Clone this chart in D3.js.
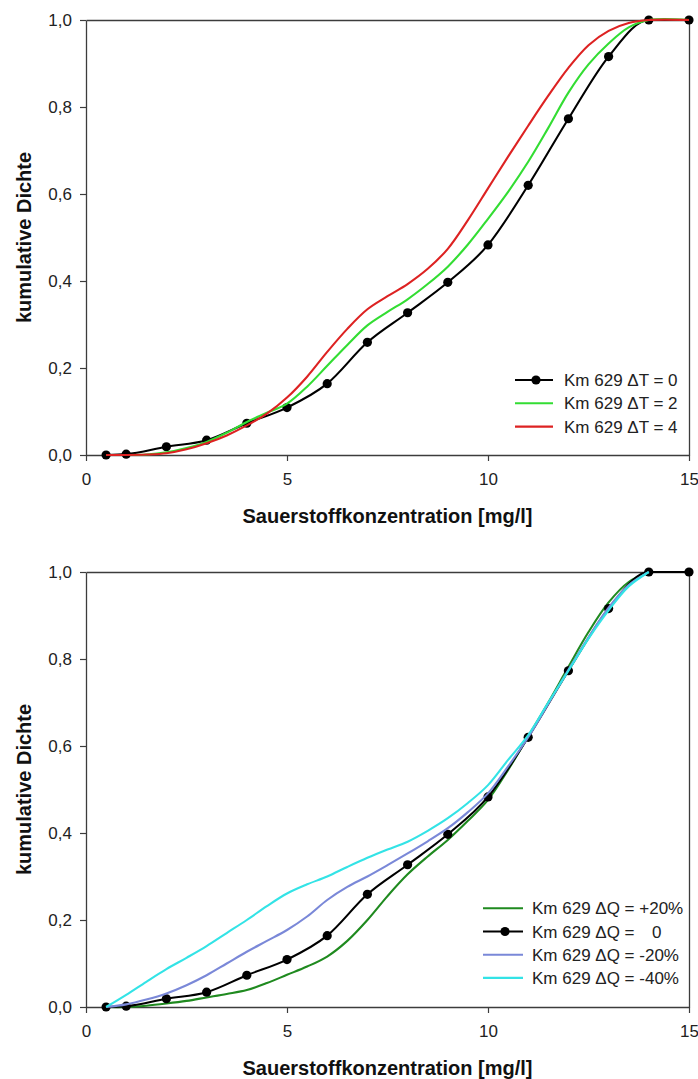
<!DOCTYPE html>
<html>
<head>
<meta charset="utf-8">
<script src="https://cdn.jsdelivr.net/npm/d3@7"></script>
<style>
  html, body { margin: 0; padding: 0; background: #fff; }
  svg { display: block; font-family: "Liberation Sans", Arial, sans-serif; }
</style>
</head>
<body>
<svg id="chart" width="698" height="1079"></svg>
<script>
// Axis ticks
const xTicks = [0, 5, 10, 15];
const yTicks = [0, 0.2, 0.4, 0.6, 0.8, 1.0];

// Measured cumulative density at Km 629 (reference state)
const stationX = [0.5, 1, 2, 3, 4, 5, 6, 7, 8, 9, 10, 11, 12, 13, 14, 15];
const baseDensity = [0, 0.002, 0.019, 0.034, 0.073, 0.109, 0.164, 0.259, 0.327, 0.397, 0.483, 0.620, 0.773, 0.916, 1, 1];

// Oxygen grid used for the scenario curves
const scenarioX = [0.5, 1, 1.5, 2, 2.5, 3, 3.5, 4, 4.5, 5, 5.5, 6, 6.5, 7, 7.5, 8, 8.5, 9, 9.5, 10,
                   10.5, 11, 11.5, 12, 12.5, 13, 13.5, 14, 15];

// Temperature scenarios (upper panel)
const densityDT2 = [0, 0, 0.001, 0.006, 0.016, 0.030, 0.051, 0.076, 0.097, 0.118, 0.157, 0.205, 0.253, 0.298, 0.329,
                    0.358, 0.393, 0.433, 0.484, 0.543, 0.605, 0.674, 0.752, 0.833, 0.898, 0.946, 0.983, 1, 1];
const densityDT4 = [0, 0, 0.001, 0.004, 0.013, 0.027, 0.045, 0.068, 0.095, 0.132, 0.180, 0.237, 0.290, 0.335, 0.365,
                    0.393, 0.428, 0.474, 0.540, 0.613, 0.686, 0.757, 0.826, 0.890, 0.942, 0.975, 0.993, 1, 1];

// Discharge scenarios (lower panel)
const densityDQp20 = [0, 0, 0.003, 0.008, 0.014, 0.022, 0.030, 0.039, 0.055, 0.074, 0.093, 0.116, 0.152, 0.200, 0.255,
                      0.305, 0.346, 0.384, 0.428, 0.476, 0.545, 0.622, 0.700, 0.782, 0.862, 0.930, 0.977, 1];
const densityDQm20 = [0, 0.006, 0.017, 0.031, 0.050, 0.073, 0.100, 0.127, 0.152, 0.177, 0.208, 0.246, 0.276, 0.300, 0.326,
                      0.353, 0.381, 0.411, 0.448, 0.491, 0.553, 0.620, 0.697, 0.775, 0.850, 0.918, 0.970, 1];
const densityDQm40 = [0, 0.028, 0.058, 0.087, 0.113, 0.140, 0.170, 0.200, 0.232, 0.261, 0.282, 0.300, 0.322, 0.343, 0.362,
                      0.380, 0.405, 0.434, 0.469, 0.510, 0.568, 0.625, 0.700, 0.773, 0.847, 0.912, 0.967, 1];

const locale = d3.formatLocale({ decimal: ",", thousands: ".", grouping: [3], currency: ["", " €"] });
const fmtY = locale.format(".1f");

const svg = d3.select("#chart");
const AXIS = "#3c3c3c";
const left = 86, right = 689;

function pts(xs, ys) { return ys.map((v, i) => [xs[i], v]); }

function panel(top, bottom, series, legend) {
  const x = d3.scaleLinear().domain([0, 15]).range([left, right]);
  const y = d3.scaleLinear().domain([0, 1]).range([bottom, top]);
  const g = svg.append("g");

  // frame (top and right edges)
  g.append("g").attr("transform", `translate(0,${top})`)
    .call(d3.axisTop(x).tickValues([]).tickSizeOuter(0));
  g.append("g").attr("transform", `translate(${right},0)`)
    .call(d3.axisRight(y).tickValues([]).tickSizeOuter(0));

  g.append("g").attr("transform", `translate(0,${bottom})`)
    .call(d3.axisBottom(x).tickValues(xTicks).tickFormat(d3.format("d")).tickSize(6).tickPadding(12).tickSizeOuter(0));
  g.append("g").attr("transform", `translate(${left},0)`)
    .call(d3.axisLeft(y).tickValues(yTicks).tickFormat(fmtY).tickSize(6).tickPadding(8).tickSizeOuter(0));

  g.selectAll(".domain").attr("stroke", AXIS).attr("stroke-width", 1.3);
  g.selectAll(".tick line").attr("stroke", AXIS).attr("stroke-width", 1.2);
  g.selectAll(".tick text").attr("fill", "#222").style("font-size", "17px")
    .style("font-family", '"Liberation Sans", Arial, sans-serif');

  // axis titles
  g.append("text")
    .attr("x", (left + right) / 2).attr("y", bottom + 68)
    .attr("text-anchor", "middle").attr("font-weight", "bold").attr("font-size", 20).attr("fill", "#111")
    .text("Sauerstoffkonzentration [mg/l]");
  g.append("text")
    .attr("transform", `translate(31,${(top + bottom) / 2}) rotate(-90)`)
    .attr("text-anchor", "middle").attr("font-weight", "bold").attr("font-size", 20).attr("fill", "#111")
    .text("kumulative Dichte");

  // measured series: monotone spline (flat top stays flat); scenarios: centripetal Catmull-Rom
  const lineMeasured = d3.line().x(d => x(d[0])).y(d => y(d[1])).curve(d3.curveMonotoneX);
  const lineScenario = d3.line().x(d => x(d[0])).y(d => y(d[1])).curve(d3.curveCatmullRom.alpha(0.5));

  series.forEach(s => {
    g.append("path").datum(pts(s.xs, s.ys))
      .attr("fill", "none").attr("stroke", s.color).attr("stroke-width", 2.1)
      .attr("stroke-linejoin", "round").attr("d", s.markers ? lineMeasured : lineScenario);
    if (s.markers) {
      g.append("g").selectAll("circle").data(pts(s.xs, s.ys)).join("circle")
        .attr("cx", d => x(d[0])).attr("cy", d => y(d[1])).attr("r", 4.6).attr("fill", "#000");
    }
  });

  // legend
  const lg = g.append("g");
  legend.rows.forEach((s, i) => {
    const cy = legend.y0 + i * legend.dy;
    lg.append("line").attr("x1", legend.x1).attr("x2", legend.x2).attr("y1", cy).attr("y2", cy)
      .attr("stroke", s.color).attr("stroke-width", 2.1);
    if (s.markers) {
      lg.append("circle").attr("cx", (legend.x1 + legend.x2) / 2 + 2).attr("cy", cy).attr("r", 4.6).attr("fill", "#000");
    }
    const t = lg.append("text").attr("x", legend.tx).attr("y", cy + 6)
      .attr("font-size", 17).attr("fill", "#222");
    t.append("tspan").text(s.label);
    if (s.value !== undefined) {
      t.append("tspan").attr("x", legend.tx + s.valueDx).text(s.value);
    }
  });
}

// Upper panel: temperature change
const base = { xs: stationX, ys: baseDensity, color: "#000", markers: true };
const t2 = { xs: scenarioX, ys: densityDT2, color: "#33dd33" };
const t4 = { xs: scenarioX, ys: densityDT4, color: "#dd2222" };
panel(20, 455, [base, t2, t4], {
  x1: 515, x2: 553, tx: 564, y0: 380, dy: 23.3,
  rows: [
    { ...base, label: "Km 629 ΔT = 0" },
    { ...t2, label: "Km 629 ΔT = 2" },
    { ...t4, label: "Km 629 ΔT = 4" }
  ]
});

// Lower panel: discharge change
const q20 = { xs: scenarioX, ys: densityDQp20, color: "#1f8a1f" };
const qm20 = { xs: scenarioX, ys: densityDQm20, color: "#7a88d8" };
const qm40 = { xs: scenarioX, ys: densityDQm40, color: "#33e3e6" };
panel(572, 1007, [q20, base, qm20, qm40], {
  x1: 483, x2: 523, tx: 532, y0: 908.3, dy: 23.2,
  rows: [
    { ...q20, label: "Km 629 ΔQ = +20%" },
    { ...base, label: "Km 629 ΔQ = ", value: "0", valueDx: 120 },
    { ...qm20, label: "Km 629 ΔQ = -20%" },
    { ...qm40, label: "Km 629 ΔQ = -40%" }
  ]
});
</script>
</body>
</html>
